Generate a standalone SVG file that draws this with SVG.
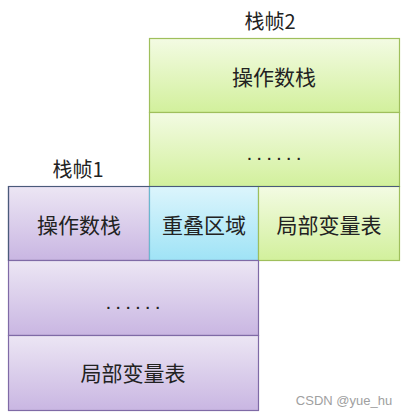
<svg xmlns="http://www.w3.org/2000/svg" width="413" height="418" viewBox="0 0 413 418">
<defs>
<linearGradient id="gp" x1="0" y1="0" x2="0" y2="1"><stop offset="0" stop-color="#ece6f4"/><stop offset="1" stop-color="#c9b6e2"/></linearGradient>
<linearGradient id="gg" x1="0" y1="0" x2="0" y2="1"><stop offset="0" stop-color="#f3fbe3"/><stop offset="1" stop-color="#d2f09c"/></linearGradient>
<linearGradient id="gc" x1="0" y1="0" x2="0" y2="1"><stop offset="0" stop-color="#dcf5fc"/><stop offset="1" stop-color="#9fe3f6"/></linearGradient>
<style>
.t{font-family:"Noto Sans CJK SC","Noto Sans",sans-serif;font-size:21px;fill:#222;text-anchor:middle;dominant-baseline:central}
.lb{font-family:"Noto Sans CJK SC","Noto Sans",sans-serif;font-size:20px;fill:#222;text-anchor:middle;dominant-baseline:central}
.p{fill:url(#gp);stroke:#7f6aa6;stroke-width:1.2}
.g{fill:url(#gg);stroke:#9fbf5c;stroke-width:1.2}
.c{fill:url(#gc);stroke:#6cb8cf;stroke-width:1.2}
.d{font-family:"Liberation Sans",sans-serif;font-size:21px;fill:#222;text-anchor:middle;letter-spacing:4px}
</style>
</defs>
<g id="label2"><text class="lb" x="270" y="20">栈帧2</text></g>
<g id="label1"><text class="lb" x="78" y="168">栈帧1</text></g>
<g id="f2-op"><rect class="g" x="149.5" y="38.5" width="250" height="74"/><text class="t" x="274" y="76">操作数栈</text></g>
<g id="f2-dots"><rect class="g" x="149.5" y="112.5" width="250" height="74"/><text class="d" x="276" y="160">......</text></g>
<g id="f1-op"><rect class="p" x="8.5" y="186.5" width="141" height="74"/><text class="t" x="79" y="224">操作数栈</text></g>
<g id="overlap"><rect class="c" x="149.5" y="186.5" width="109" height="74"/><text class="t" x="204" y="224">重叠区域</text></g>
<g id="f2-local"><rect class="g" x="258.5" y="186.5" width="141" height="74"/><text class="t" x="329" y="224">局部变量表</text></g>
<g id="f1-dots"><rect class="p" x="8.5" y="260.5" width="250" height="75"/><text class="d" x="135" y="309">......</text></g>
<g id="f1-local"><rect class="p" x="8.5" y="335.5" width="250" height="75"/><text class="t" x="133" y="372">局部变量表</text></g>
<path d="M8.5 260.5 V186.5 H399.5" fill="none" stroke="#4a5a7a" stroke-width="1.2"/>
<text x="344" y="405" font-family="Liberation Sans,sans-serif" font-size="13" fill="#a0a0a0" text-anchor="middle">CSDN @yue_hu</text>
</svg>
